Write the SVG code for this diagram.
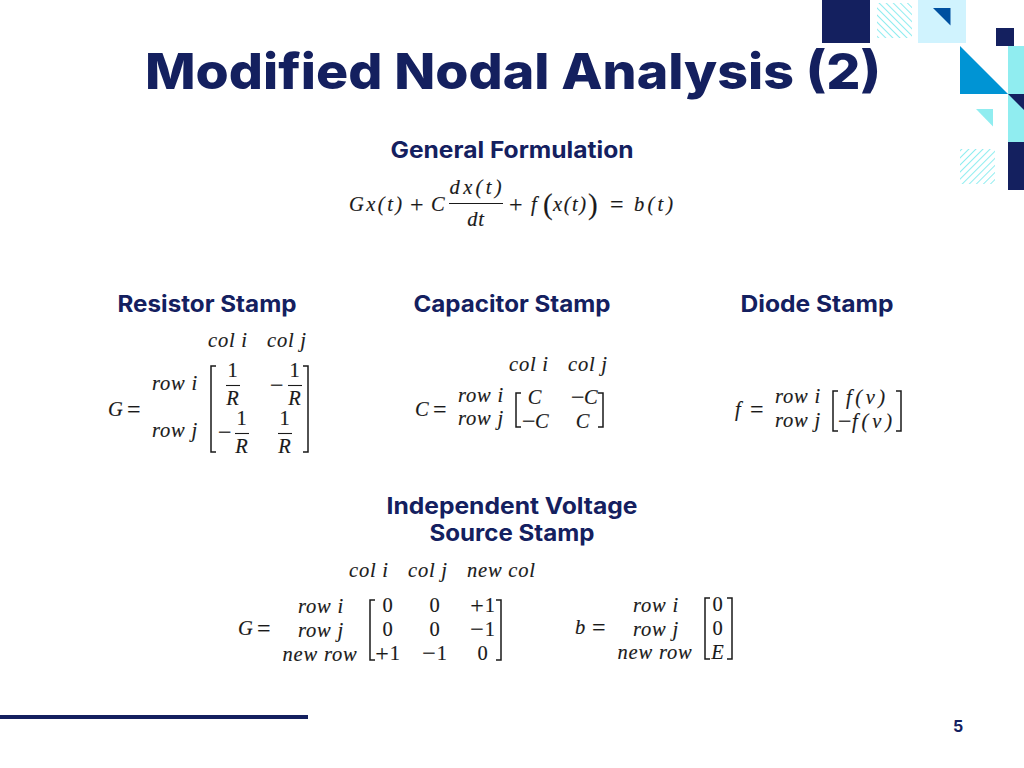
<svg xmlns="http://www.w3.org/2000/svg" width="1024" height="768" viewBox="0 0 1024 768">
<style>
.h{font-family:"Inter","Liberation Sans",sans-serif;font-weight:700;font-size:22.5px;fill:#14205f;text-anchor:middle}
.m{font-family:"Liberation Serif",serif;font-style:italic;font-size:20.5px;fill:#1a1a1a;letter-spacing:.8px;stroke:#1a1a1a;stroke-width:.15}
.c{text-anchor:middle}
.n{font-style:normal}
.o{font-style:normal;font-size:24px}
.p{font-style:normal;font-size:29px}
.b{fill:none;stroke:#1a1a1a;stroke-width:1.5}
.f{stroke:#1a1a1a;stroke-width:1.1}
.navy{fill:#14205f}
.cy{fill:#90edf0}
</style>
<defs>
<pattern id="h1" width="5" height="5" patternUnits="userSpaceOnUse" patternTransform="rotate(45)"><rect width="5" height="1" fill="#90edf0"/></pattern>
<pattern id="h2" width="5" height="5" patternUnits="userSpaceOnUse" patternTransform="rotate(-45)"><rect width="5" height="1" fill="#90edf0"/></pattern>
</defs>
<rect width="1024" height="768" fill="#fff"/>
<g id="decor">
<rect class="navy" x="822" y="0" width="48" height="43"/>
<rect x="877" y="3" width="35" height="35" fill="url(#h1)"/>
<rect x="918" y="0" width="48" height="43" fill="#d0f3fe"/>
<polygon points="933,8 950.500,8 950.500,25.500" fill="#0050a0"/>
<rect class="navy" x="996" y="28" width="18" height="18"/>
<polygon points="960,46 1008,94 960,94" fill="#0094d4"/>
<rect class="cy" x="1008" y="46" width="16" height="96"/>
<polygon class="navy" points="1008,94 1024,94 1024,110"/>
<polygon class="cy" points="976,109 993,109 993,126.500"/>
<rect class="navy" x="1008" y="142" width="16" height="48"/>
<rect x="960" y="149" width="35" height="35" fill="url(#h2)"/>
</g>
<text id="title" x="145" y="89" font-family="Inter,'Liberation Sans',sans-serif" font-weight="800" font-size="50" fill="#14205f" textLength="736" lengthAdjust="spacingAndGlyphs">Modified Nodal Analysis (2)</text>
<g id="general">
<text class="h" x="512" y="158" textLength="243" lengthAdjust="spacingAndGlyphs">General Formulation</text>
<text class="m" x="349" y="211" textLength="54">Gx(t)</text>
<text class="m o" x="410" y="212">+</text>
<text class="m" x="431" y="211">C</text>
<text class="m c" x="476" y="194" textLength="53">dx(t)</text>
<line class="f" x1="449" y1="203.500" x2="503" y2="203.500"/>
<text class="m c" x="476" y="226">dt</text>
<text class="m o" x="509" y="212">+</text>
<text class="m" x="531" y="211">f</text>
<text class="m p" x="543" y="214">(</text>
<text class="m" x="553" y="211" textLength="34">x(t)</text>
<text class="m p" x="588" y="214">)</text>
<text class="m o" x="610" y="212">=</text>
<text class="m" x="634" y="211" textLength="40">b(t)</text>
</g>
<g id="resistor">
<text class="h" x="207" y="312" textLength="179" lengthAdjust="spacingAndGlyphs">Resistor Stamp</text>
<text class="m" x="208" y="347">col i</text>
<text class="m" x="267" y="347">col j</text>
<text class="m" x="108" y="416">G</text><text class="m o" x="127" y="417">=</text>
<text class="m" x="152" y="390">row i</text>
<text class="m" x="152" y="437">row j</text>
<path class="b" d="M216,366H211V452H216M303,366H308V452H303"/>
<text class="m c n" x="233" y="377">1</text><line class="f" x1="226" y1="385.500" x2="240" y2="385.500"/><text class="m c" x="233" y="405">R</text>
<text class="m o" x="270" y="393">−</text>
<text class="m c n" x="295" y="377">1</text><line class="f" x1="288" y1="385.500" x2="302" y2="385.500"/><text class="m c" x="295" y="405">R</text>
<text class="m o" x="218" y="440">−</text>
<text class="m c n" x="242" y="425">1</text><line class="f" x1="235" y1="433.500" x2="249" y2="433.500"/><text class="m c" x="242" y="453">R</text>
<text class="m c n" x="285" y="425">1</text><line class="f" x1="278" y1="433.500" x2="292" y2="433.500"/><text class="m c" x="285" y="453">R</text>
</g>
<g id="capacitor">
<text class="h" x="512" y="312" textLength="197" lengthAdjust="spacingAndGlyphs">Capacitor Stamp</text>
<text class="m" x="509" y="371">col i</text>
<text class="m" x="568" y="371">col j</text>
<text class="m" x="415" y="416">C</text><text class="m o" x="433" y="417">=</text>
<text class="m" x="458" y="402">row i</text>
<text class="m" x="458" y="425">row j</text>
<path class="b" d="M521,393H516V427H521M598,393H603V427H598"/>
<text class="m c" x="535" y="404">C</text><text class="m o" x="571" y="405">−</text><text class="m" x="584" y="404">C</text>
<text class="m o" x="522" y="429">−</text><text class="m" x="535" y="428">C</text><text class="m c" x="583" y="428">C</text>
</g>
<g id="diode">
<text class="h" x="817" y="312" textLength="153" lengthAdjust="spacingAndGlyphs">Diode Stamp</text>
<text class="m" x="735" y="416">f</text><text class="m o" x="750" y="417">=</text>
<text class="m" x="775" y="403">row i</text>
<text class="m" x="775" y="427">row j</text>
<path class="b" d="M838,391H833V431H838M896,391H901V431H896"/>
<text class="m" x="846" y="404" textLength="40">f(v)</text>
<text class="m o" x="838" y="429">−</text><text class="m" x="852" y="428" textLength="41">f(v)</text>
</g>
<g id="vsource">
<text class="h" x="512" y="514" textLength="251" lengthAdjust="spacingAndGlyphs">Independent Voltage</text>
<text class="h" x="512" y="541" textLength="165" lengthAdjust="spacingAndGlyphs">Source Stamp</text>
<text class="m" x="349" y="577">col i</text>
<text class="m" x="408" y="577">col j</text>
<text class="m" x="467" y="577">new col</text>
<text class="m" x="238" y="635">G</text><text class="m o" x="257" y="636">=</text>
<text class="m c" x="321" y="613">row i</text>
<text class="m c" x="321" y="637">row j</text>
<text class="m c" x="320" y="661">new row</text>
<path class="b" d="M375,600H370V660H375M496,600H501V660H496"/>
<text class="m c n" x="388" y="612">0</text><text class="m c n" x="435" y="612">0</text><text class="m c n" x="483" y="612"><tspan class="o" dy="1">+</tspan><tspan dy="-1">1</tspan></text>
<text class="m c n" x="388" y="636">0</text><text class="m c n" x="435" y="636">0</text><text class="m c n" x="483" y="636"><tspan class="o" dy="1">−</tspan><tspan dy="-1">1</tspan></text>
<text class="m c n" x="388" y="660"><tspan class="o" dy="1">+</tspan><tspan dy="-1">1</tspan></text><text class="m c n" x="435" y="660"><tspan class="o" dy="1">−</tspan><tspan dy="-1">1</tspan></text><text class="m c n" x="483" y="660">0</text>
</g>
<g id="bvector">
<text class="m" x="575" y="634">b</text><text class="m o" x="592" y="635">=</text>
<text class="m c" x="656" y="612">row i</text>
<text class="m c" x="656" y="636">row j</text>
<text class="m c" x="655" y="659">new row</text>
<path class="b" d="M710,598H705V659H710M727,598H732V659H727"/>
<text class="m c n" x="718" y="611">0</text>
<text class="m c n" x="718" y="635">0</text>
<text class="m c" x="718" y="659">E</text>
</g>
<g id="footer">
<rect class="navy" x="0" y="715" width="308" height="4"/>
<text x="958" y="732" font-family="Inter,'Liberation Sans',sans-serif" font-weight="700" font-size="16" fill="#14205f" text-anchor="middle">5</text>
</g>
</svg>
